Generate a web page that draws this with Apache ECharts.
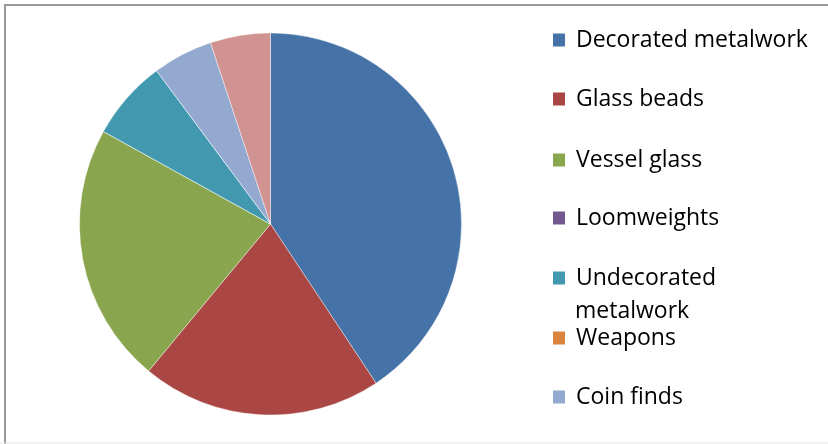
<!DOCTYPE html>
<html>
<head>
<meta charset="utf-8">
<script src="https://cdn.jsdelivr.net/npm/echarts@6/dist/echarts.min.js"></script>
<style>html,body{margin:0;padding:0;background:#fff}#c{width:828px;height:444px}</style>
</head>
<body>
<div id="c"></div>
<script>
var categories = ['Decorated metalwork', 'Glass beads', 'Vessel glass', 'Loomweights', 'Undecorated metalwork', 'Weapons', 'Coin finds', 'Other'];
var values = [24, 12, 13, 0, 4, 0, 3, 3];
var colors = ['#4572A7', '#AA4643', '#89A54E', '#71588F', '#4198AF', '#DB843D', '#93A9CF', '#D19392'];
var legendNames = categories.slice(0, 7);

var FONT = 'Open Sans';
var FS = 23;
var legendCenters = [40, 99, 160, 218, 278, 338, 397];
var legends = legendNames.map(function (n, i) {
  return {
    data: [n],
    orient: 'vertical',
    left: 551,
    top: legendCenters[i] - 15,
    padding: 0,
    icon: 'rect',
    itemWidth: 14,
    itemHeight: 15,
    itemGap: 0,
    selectedMode: false,
    formatter: function (name) { return name === 'Undecorated metalwork' ? 'Undecorated' : name; },
    textStyle: { fontFamily: FONT, fontSize: FS, lineHeight: 30, color: '#000', padding: [0, 0, 0, 5] }
  };
});

var chart = echarts.init(document.getElementById('c'), null, { renderer: 'canvas' });
chart.setOption({
  animation: false,
  color: colors,
  legend: legends,
  graphic: [
    { type: 'rect', shape: { x: 5, y: 5, width: 840, height: 460 }, style: { fill: 'none', stroke: '#9a9a9a', lineWidth: 2 }, silent: true },
    { type: 'line', shape: { x1: 0, y1: 443, x2: 828, y2: 443 }, style: { stroke: '#e6e6e6', lineWidth: 1 }, silent: true },
    { type: 'text', x: 575, y: 311, style: { text: 'metalwork', fontFamily: FONT, fontSize: FS, fill: '#000', verticalAlign: 'middle' } }
  ],
  series: [{
    type: 'pie',
    center: [270.5, 224],
    radius: 191,
    startAngle: 90,
    clockwise: true,
    label: { show: false },
    labelLine: { show: false },
    emphasis: { disabled: true },
    itemStyle: { borderColor: '#ffffff', borderWidth: 0.4 },
    data: categories.map(function (n, i) { return { name: n, value: values[i] }; })
  }]
});
</script>
</body>
</html>
